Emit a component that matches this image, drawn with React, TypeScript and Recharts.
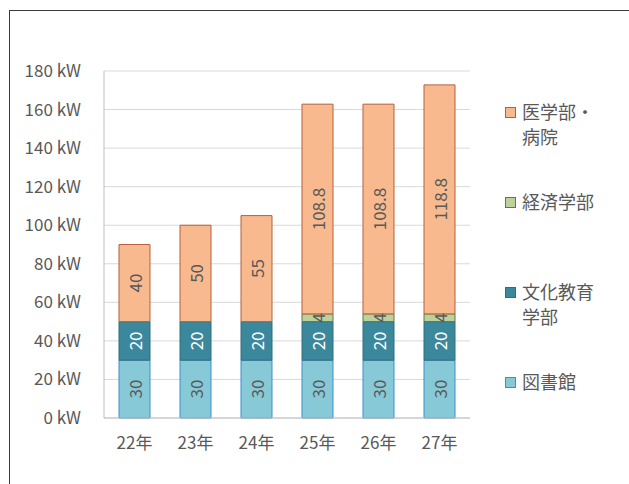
import React from 'react';
import { BarChart, Bar, XAxis, YAxis, CartesianGrid, LabelList } from 'recharts';

const categories = ['22年', '23年', '24年', '25年', '26年', '27年'];
const library = [30, 30, 30, 30, 30, 30];
const culture = [20, 20, 20, 20, 20, 20];
const economics = [null, null, null, 4, 4, 4];
const medical = [40, 50, 55, 108.8, 108.8, 118.8];
const yTicks = [0, 20, 40, 60, 80, 100, 120, 140, 160, 180];

const seriesNames = {
  library: '図書館',
  culture: '文化教育学部',
  economics: '経済学部',
  medical: '医学部・病院',
};

const data = categories.map((c, i) => ({
  name: c,
  library: library[i],
  culture: culture[i],
  economics: economics[i],
  medical: medical[i],
}));

const FONT = '"Noto Sans CJK JP", "Noto Sans", sans-serif';
const FS = 17;
const GRAY = '#595959';

const styles: Record<string, { fill: string; stroke: string; label: string }> = {
  library: { fill: '#87C9D7', stroke: '#3A8FD0', label: GRAY },
  culture: { fill: '#3B889C', stroke: '#2F6E7E', label: '#FFFFFF' },
  economics: { fill: '#BCD19C', stroke: '#5E7B3C', label: GRAY },
  medical: { fill: '#F8B98F', stroke: '#B5603A', label: GRAY },
};

const makeLabel = (color: string) => (props: any) => {
  const { x, y, width, height, value } = props;
  if (value === null || value === undefined) return null;
  const cx = Number(x) + Number(width) / 2;
  const cy = Number(y) + Number(height) / 2;
  return (
    <text
      x={cx}
      y={cy}
      transform={`rotate(-90, ${cx}, ${cy})`}
      textAnchor="middle"
      dominantBaseline="central"
      fill={color}
      fontSize={FS}
      fontFamily={FONT}
    >
      {value}
    </text>
  );
};

const keys = ['library', 'culture', 'economics', 'medical'];
const legendOrder = ['medical', 'economics', 'culture', 'library'];

export default function App() {
  return (
    <div style={{ position: 'absolute', left: 0, top: 0, width: 629, height: 484, overflow: 'hidden', background: '#fff', fontFamily: FONT }}>
      <div style={{ position: 'absolute', left: 9, top: 10, width: 640, height: 500, borderTop: '1px solid #3a3a3a', borderLeft: '1px solid #3a3a3a' }} />
      <BarChart
        width={629}
        height={484}
        data={data}
        margin={{ top: 71, right: 159, bottom: 36, left: 24 }}
        barCategoryGap={15}
        style={{ position: 'absolute', left: 0, top: 0 }}
      >
        <CartesianGrid vertical={false} stroke="#D9D9D9" />
        <XAxis
          dataKey="name"
          height={30}
          tickLine={false}
          tickMargin={13}
          axisLine={{ stroke: '#BFBFBF' }}
          tick={{ fill: GRAY, fontSize: FS, fontFamily: FONT }}
        />
        <YAxis
          width={80}
          domain={[0, 180]}
          ticks={yTicks}
          interval={0}
          tickLine={false}
          tickMargin={17}
          axisLine={{ stroke: '#BFBFBF' }}
          tickFormatter={(v: number) => `${v} kW`}
          tick={{ fill: GRAY, fontSize: FS, fontFamily: FONT }}
        />
        {keys.map((k) => (
          <Bar
            key={k}
            dataKey={k}
            name={(seriesNames as any)[k]}
            stackId="a"
            fill={styles[k].fill}
            stroke={styles[k].stroke}
            strokeWidth={1}
            isAnimationActive={false}
          >
            <LabelList dataKey={k} content={makeLabel(styles[k].label)} />
          </Bar>
        ))}
      </BarChart>
      <div style={{ position: 'absolute', left: 505, top: 99, width: 124 }}>
        {legendOrder.map((k) => (
          <div key={k} style={{ position: 'relative', height: 90 }}>
            <div
              style={{
                position: 'absolute',
                left: 0,
                top: 8,
                width: 9,
                height: 9,
                background: styles[k].fill,
                border: `1px solid ${styles[k].stroke}`,
              }}
            />
            <div
              style={{
                position: 'absolute',
                left: 17,
                top: 0,
                width: '4.2em',
                fontSize: 18,
                lineHeight: '25px',
                color: GRAY,
                fontFamily: FONT,
              }}
            >
              {(seriesNames as any)[k]}
            </div>
          </div>
        ))}
      </div>
    </div>
  );
}
